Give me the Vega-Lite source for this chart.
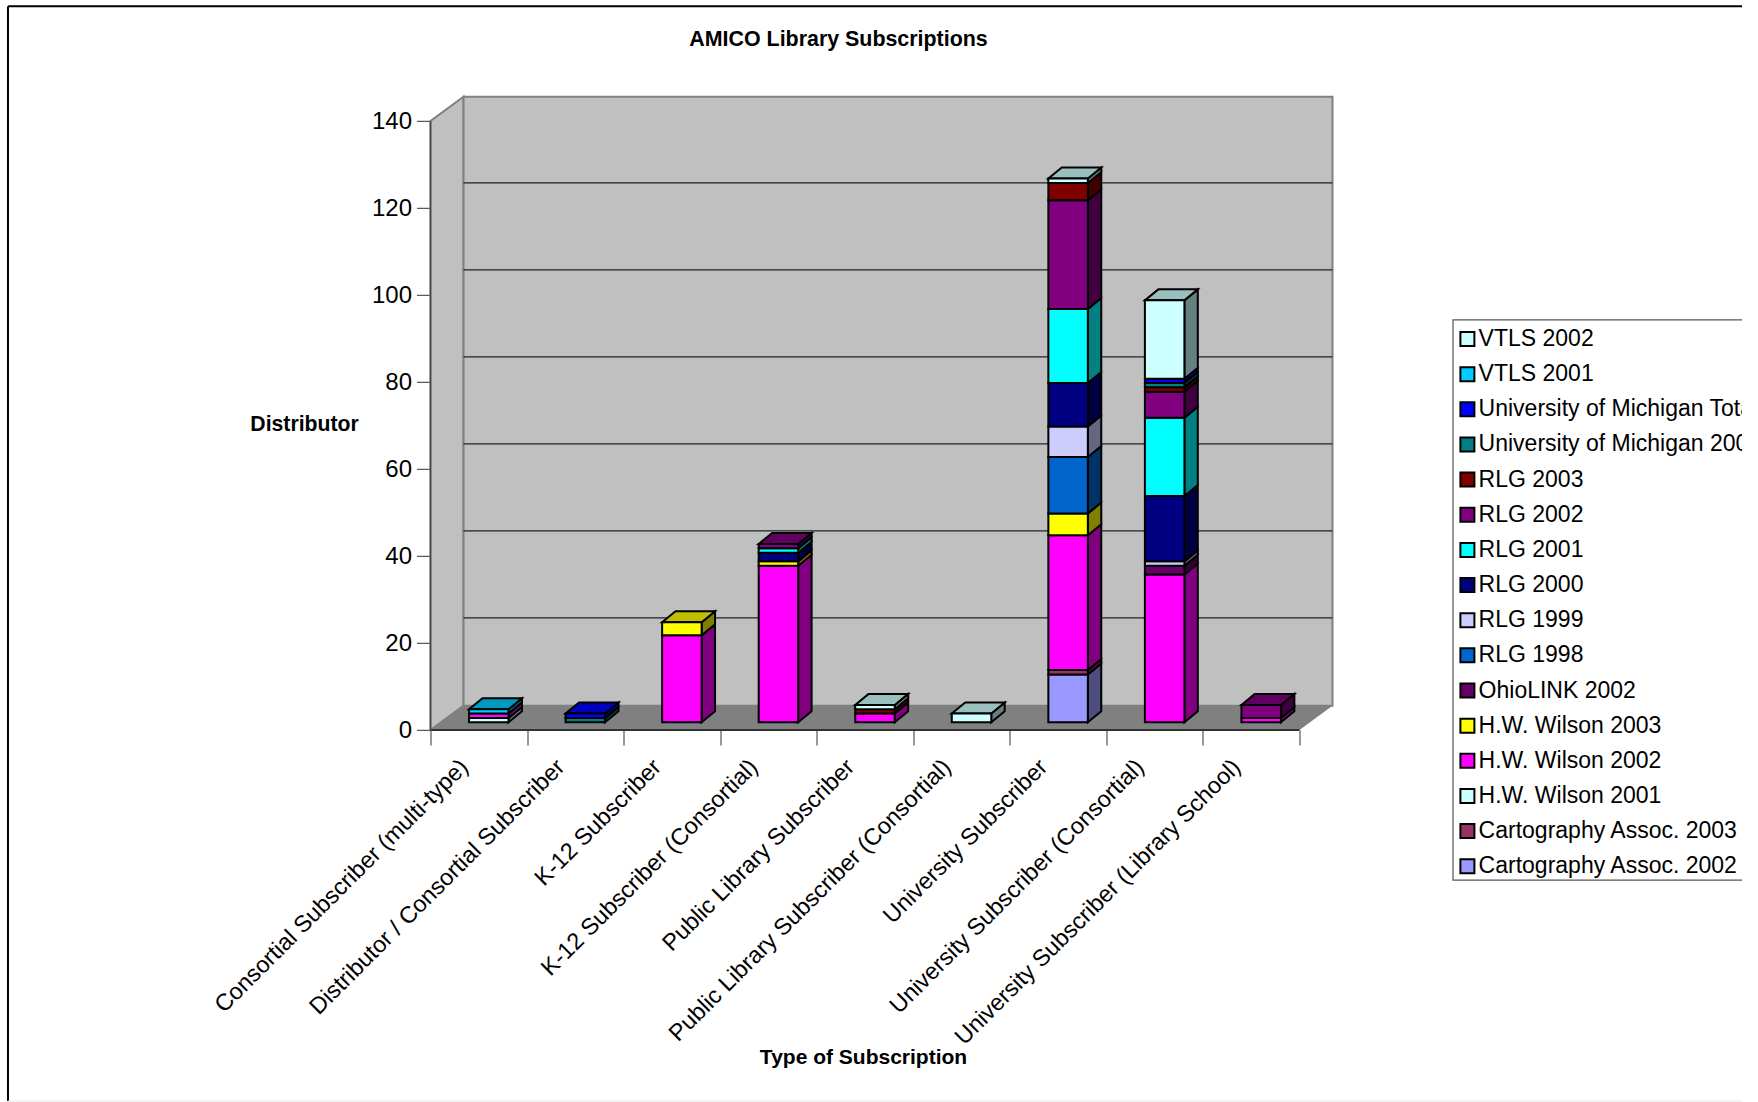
{
"$schema":"https://vega.github.io/schema/vega-lite/v6.json",
"width":902,"height":634.2,
"padding":{"left":430.5,"top":95.8,"right":409.5,"bottom":372},
"autosize":{"type":"none"},
"background":"white",
"view":{"stroke":null},
"config":{"font":"Liberation Sans","axis":{"labelFont":"Liberation Sans","titleFont":"Liberation Sans"}},
"title":{"text":"AMICO Library Subscriptions","font":"Liberation Sans","fontSize":21.4,"fontWeight":"bold","color":"black","anchor":"middle","frame":"group","dx":-43,"offset":0,"dy":45},
"datasets":{
"bars":[
{"type":"Consortial Subscriber (multi-type)","series":"H.W. Wilson 2001","value":1},
{"type":"Consortial Subscriber (multi-type)","series":"H.W. Wilson 2002","value":1},
{"type":"Consortial Subscriber (multi-type)","series":"VTLS 2001","value":1},
{"type":"Distributor / Consortial Subscriber","series":"University of Michigan 2002","value":1},
{"type":"Distributor / Consortial Subscriber","series":"University of Michigan Total","value":1},
{"type":"K-12 Subscriber","series":"H.W. Wilson 2002","value":20},
{"type":"K-12 Subscriber","series":"H.W. Wilson 2003","value":3},
{"type":"K-12 Subscriber (Consortial)","series":"H.W. Wilson 2002","value":36},
{"type":"K-12 Subscriber (Consortial)","series":"H.W. Wilson 2003","value":1},
{"type":"K-12 Subscriber (Consortial)","series":"RLG 2000","value":2},
{"type":"K-12 Subscriber (Consortial)","series":"RLG 2001","value":1},
{"type":"K-12 Subscriber (Consortial)","series":"RLG 2002","value":1},
{"type":"Public Library Subscriber","series":"H.W. Wilson 2002","value":2},
{"type":"Public Library Subscriber","series":"RLG 2003","value":1},
{"type":"Public Library Subscriber","series":"VTLS 2002","value":1},
{"type":"Public Library Subscriber (Consortial)","series":"H.W. Wilson 2001","value":2},
{"type":"University Subscriber","series":"Cartography Assoc. 2002","value":11},
{"type":"University Subscriber","series":"Cartography Assoc. 2003","value":1},
{"type":"University Subscriber","series":"H.W. Wilson 2002","value":31},
{"type":"University Subscriber","series":"H.W. Wilson 2003","value":5},
{"type":"University Subscriber","series":"RLG 1998","value":13},
{"type":"University Subscriber","series":"RLG 1999","value":7},
{"type":"University Subscriber","series":"RLG 2000","value":10},
{"type":"University Subscriber","series":"RLG 2001","value":17},
{"type":"University Subscriber","series":"RLG 2002","value":25},
{"type":"University Subscriber","series":"RLG 2003","value":4},
{"type":"University Subscriber","series":"VTLS 2002","value":1},
{"type":"University Subscriber (Consortial)","series":"H.W. Wilson 2002","value":34},
{"type":"University Subscriber (Consortial)","series":"OhioLINK 2002","value":2},
{"type":"University Subscriber (Consortial)","series":"RLG 1999","value":1},
{"type":"University Subscriber (Consortial)","series":"RLG 2000","value":15},
{"type":"University Subscriber (Consortial)","series":"RLG 2001","value":18},
{"type":"University Subscriber (Consortial)","series":"RLG 2002","value":6},
{"type":"University Subscriber (Consortial)","series":"RLG 2003","value":1},
{"type":"University Subscriber (Consortial)","series":"University of Michigan 2002","value":1},
{"type":"University Subscriber (Consortial)","series":"University of Michigan Total","value":1},
{"type":"University Subscriber (Consortial)","series":"VTLS 2002","value":18},
{"type":"University Subscriber (Library School)","series":"H.W. Wilson 2002","value":1},
{"type":"University Subscriber (Library School)","series":"RLG 2002","value":3}
]},
"resolve":{"scale":{"fill":"independent"}},
"layer":[
{"data":{"values":[{"x":0,"b":0,"t":140},{"x":0.342,"b":5.6,"t":145.6}]},
 "mark":{"type":"area","fill":"#c0c0c0","stroke":"#808080","strokeWidth":2,"orient":"vertical"},
 "encoding":{
  "x":{"field":"x","type":"quantitative","scale":{"domain":[0,9.342],"nice":false,"zero":false},
   "axis":{"values":[0,1,2,3,4,5,6,7,8,9],"grid":false,"domain":false,"tickSize":15,"tickColor":"#333333","tickWidth":1,
    "labelExpr":"['Consortial Subscriber (multi-type)','Distributor / Consortial Subscriber','K-12 Subscriber','K-12 Subscriber (Consortial)','Public Library Subscriber','Public Library Subscriber (Consortial)','University Subscriber','University Subscriber (Consortial)','University Subscriber (Library School)',''][datum.value]",
    "labelAngle":-45,"labelAlign":"right","labelBaseline":"middle","labelFontSize":23.4,"labelColor":"black","labelOffset":33.5,"labelPadding":18,"labelOverlap":false,"labelBound":false,"labelFlush":false,"labelLimit":1000,
    "title":"Type of Subscription","titleFontSize":21,"titleFontWeight":"bold","titleColor":"black","titleX":432.5,"titleY":327,"titleAlign":"center","titleBaseline":"middle"}},
  "y":{"field":"b","type":"quantitative","scale":{"domain":[0,145.8],"nice":false,"zero":false},
   "axis":{"values":[0,20,40,60,80,100,120,140],"grid":false,"domain":false,"tickSize":14,"tickColor":"#333333","tickWidth":1,"labelFontSize":24,"labelColor":"black","labelPadding":5,
    "title":"Distributor","titleFontSize":21.2,"titleFontWeight":"bold","titleColor":"black","titleAngle":0,"titleX":-126.5,"titleY":329,"titleAlign":"center","titleBaseline":"middle"}},
  "y2":{"field":"t"}}},
{"data":{"values":[{"x":0.342,"x2":9.342,"y":5.6,"y2":145.6}]},
 "mark":{"type":"rect","fill":"#c0c0c0","stroke":"#808080","strokeWidth":2},
 "encoding":{"x":{"field":"x","type":"quantitative"},"x2":{"field":"x2"},"y":{"field":"y","type":"quantitative"},"y2":{"field":"y2"}}},
{"data":{"values":[{"g":25.8},{"g":45.8},{"g":65.8},{"g":85.8},{"g":105.8},{"g":125.8}]},
 "mark":{"type":"rule","color":"#222222","strokeWidth":1.2},
 "encoding":{"x":{"datum":0.342,"type":"quantitative"},"x2":{"datum":9.342},"y":{"field":"g","type":"quantitative"}}},
{"data":{"values":[{"y":0,"a":0,"b":9},{"y":5.6,"a":0.342,"b":9.342}]},
 "mark":{"type":"area","fill":"#808080","orient":"horizontal"},
 "encoding":{"x":{"field":"a","type":"quantitative"},"x2":{"field":"b"},"y":{"field":"y","type":"quantitative"}}},
{"mark":{"type":"rule","color":"#333333","strokeWidth":2},"data":{"values":[{}]},
 "encoding":{"x":{"datum":0,"type":"quantitative"},"x2":{"datum":9},"y":{"datum":0,"type":"quantitative"}}},
{"mark":{"type":"rule","color":"#444444","strokeWidth":1.5},"data":{"values":[{}]},
 "encoding":{"x":{"datum":0,"type":"quantitative"},"y":{"datum":0,"type":"quantitative"},"y2":{"datum":140}}},
{"data":{"name":"bars"},
 "transform":[
  {"stack":"value","groupby":["type"],"sort":[{"field":"series","order":"ascending"}],"as":["s0","s1"]},
  {"calculate":"indexof(['Consortial Subscriber (multi-type)','Distributor / Consortial Subscriber','K-12 Subscriber','K-12 Subscriber (Consortial)','Public Library Subscriber','Public Library Subscriber (Consortial)','University Subscriber','University Subscriber (Consortial)','University Subscriber (Library School)'],datum.type)","as":"idx"},
  {"calculate":"[0,1]","as":"d"},{"flatten":["d"]},
  {"calculate":"datum.idx+0.808+datum.d*0.139","as":"sx"},
  {"calculate":"datum.s0+1.77+datum.d*2.53","as":"sb"},
  {"calculate":"datum.s1+1.77+datum.d*2.53","as":"st"},
  {"calculate":"datum.type+datum.series","as":"key"}],
 "mark":{"type":"area","stroke":"black","strokeWidth":2,"orient":"vertical"},
 "encoding":{"x":{"field":"sx","type":"quantitative"},"y":{"field":"sb","type":"quantitative"},"y2":{"field":"st"},"detail":{"field":"key"},
  "fill":{"field":"series","type":"nominal","legend":null,"scale":{
   "domain":["Cartography Assoc. 2002","Cartography Assoc. 2003","H.W. Wilson 2001","H.W. Wilson 2002","H.W. Wilson 2003","OhioLINK 2002","RLG 1998","RLG 1999","RLG 2000","RLG 2001","RLG 2002","RLG 2003","University of Michigan 2002","University of Michigan Total","VTLS 2001","VTLS 2002"],
   "range":["#4D4D80","#4D1A33","#668080","#800080","#808000","#330033","#003366","#666680","#000040","#008080","#400040","#400000","#004040","#000080","#006680","#668080"]}}}},
{"data":{"name":"bars"},
 "transform":[
  {"stack":"value","groupby":["type"],"sort":[{"field":"series","order":"ascending"}],"as":["s0","s1"]},
  {"joinaggregate":[{"op":"max","field":"s1","as":"tot"}],"groupby":["type"]},
  {"filter":"datum.s1==datum.tot"},
  {"calculate":"indexof(['Consortial Subscriber (multi-type)','Distributor / Consortial Subscriber','K-12 Subscriber','K-12 Subscriber (Consortial)','Public Library Subscriber','Public Library Subscriber (Consortial)','University Subscriber','University Subscriber (Consortial)','University Subscriber (Library School)'],datum.type)","as":"idx"},
  {"calculate":"[0,1]","as":"d"},{"flatten":["d"]},
  {"calculate":"datum.idx+0.399+datum.d*0.139","as":"tl"},
  {"calculate":"datum.idx+0.808+datum.d*0.139","as":"tr"},
  {"calculate":"datum.s1+1.77+datum.d*2.53","as":"ty"}],
 "mark":{"type":"area","stroke":"black","strokeWidth":2,"orient":"horizontal"},
 "encoding":{"x":{"field":"tl","type":"quantitative"},"x2":{"field":"tr"},"y":{"field":"ty","type":"quantitative"},"detail":{"field":"type"},
  "fill":{"field":"series","type":"nominal","legend":null,"scale":{
   "domain":["Cartography Assoc. 2002","Cartography Assoc. 2003","H.W. Wilson 2001","H.W. Wilson 2002","H.W. Wilson 2003","OhioLINK 2002","RLG 1998","RLG 1999","RLG 2000","RLG 2001","RLG 2002","RLG 2003","University of Michigan 2002","University of Michigan Total","VTLS 2001","VTLS 2002"],
   "range":["#7373BF","#732640","#99BFBF","#BF00BF","#BFBF00","#4D004D","#004D99","#9999BF","#000060","#00BFBF","#600060","#600000","#006060","#0000BF","#0099BF","#99BFBF"]}}}},
{"mark":{"type":"rect","fill":"white","stroke":"#555555","strokeWidth":1.2},"data":{"values":[{}]},
 "encoding":{"x":{"datum":10.59,"type":"quantitative"},"x2":{"datum":13.8},"y":{"datum":94.3,"type":"quantitative"},"y2":{"datum":-34.5}}},
{"data":{"name":"bars"},
 "transform":[
  {"stack":"value","groupby":["type"],"sort":[{"field":"series","order":"ascending"}],"as":["s0","s1"]},
  {"calculate":"indexof(['Consortial Subscriber (multi-type)','Distributor / Consortial Subscriber','K-12 Subscriber','K-12 Subscriber (Consortial)','Public Library Subscriber','Public Library Subscriber (Consortial)','University Subscriber','University Subscriber (Consortial)','University Subscriber (Library School)'],datum.type)","as":"idx"},
  {"calculate":"datum.idx+0.399","as":"fl"},
  {"calculate":"datum.idx+0.808","as":"fr"},
  {"calculate":"datum.s0+1.77","as":"fb"},
  {"calculate":"datum.s1+1.77","as":"ft"}],
 "mark":{"type":"rect","stroke":"black","strokeWidth":2},
 "encoding":{"x":{"field":"fl","type":"quantitative"},"x2":{"field":"fr"},"y":{"field":"fb","type":"quantitative"},"y2":{"field":"ft"},
  "color":{"field":"series","type":"nominal",
   "scale":{"domain":["VTLS 2002","VTLS 2001","University of Michigan Total","University of Michigan 2002","RLG 2003","RLG 2002","RLG 2001","RLG 2000","RLG 1999","RLG 1998","OhioLINK 2002","H.W. Wilson 2003","H.W. Wilson 2002","H.W. Wilson 2001","Cartography Assoc. 2003","Cartography Assoc. 2002"],
    "range":["#CCFFFF","#00CCFF","#0000FF","#008080","#800000","#800080","#00FFFF","#000080","#CCCCFF","#0066CC","#660066","#FFFF00","#FF00FF","#CCFFFF","#993366","#9999FF"]},
   "legend":{"orient":"none","legendX":1029.4,"legendY":231.7,"title":null,"padding":0,"symbolType":"square","symbolSize":196,"symbolOffset":-4,"symbolStrokeColor":"black","symbolStrokeWidth":2,"symbolOpacity":1,"labelFontSize":23,"labelColor":"black","labelFont":"Liberation Sans","labelOffset":-0.3,"labelLimit":1000,"rowPadding":11.15,"values":["VTLS 2002","VTLS 2001","University of Michigan Total","University of Michigan 2002","RLG 2003","RLG 2002","RLG 2001","RLG 2000","RLG 1999","RLG 1998","OhioLINK 2002","H.W. Wilson 2003","H.W. Wilson 2002","H.W. Wilson 2001","Cartography Assoc. 2003","Cartography Assoc. 2002"]}}}},
{"mark":{"type":"rule","color":"black","strokeWidth":2},"data":{"values":[{}]},
 "encoding":{"x":{"datum":-4.376,"type":"quantitative"},"y":{"datum":166.4,"type":"quantitative"},"y2":{"datum":-85.3}}},
{"mark":{"type":"rule","color":"black","strokeWidth":2},"data":{"values":[{}]},
 "encoding":{"x":{"datum":-4.376,"type":"quantitative"},"x2":{"datum":13.6},"y":{"datum":166.4,"type":"quantitative"}}},
{"mark":{"type":"rule","color":"#e4e4e4","strokeWidth":1},"data":{"values":[{}]},
 "encoding":{"x":{"datum":-4.376,"type":"quantitative"},"x2":{"datum":13.6},"y":{"datum":-85.3,"type":"quantitative"}}}
]
}
